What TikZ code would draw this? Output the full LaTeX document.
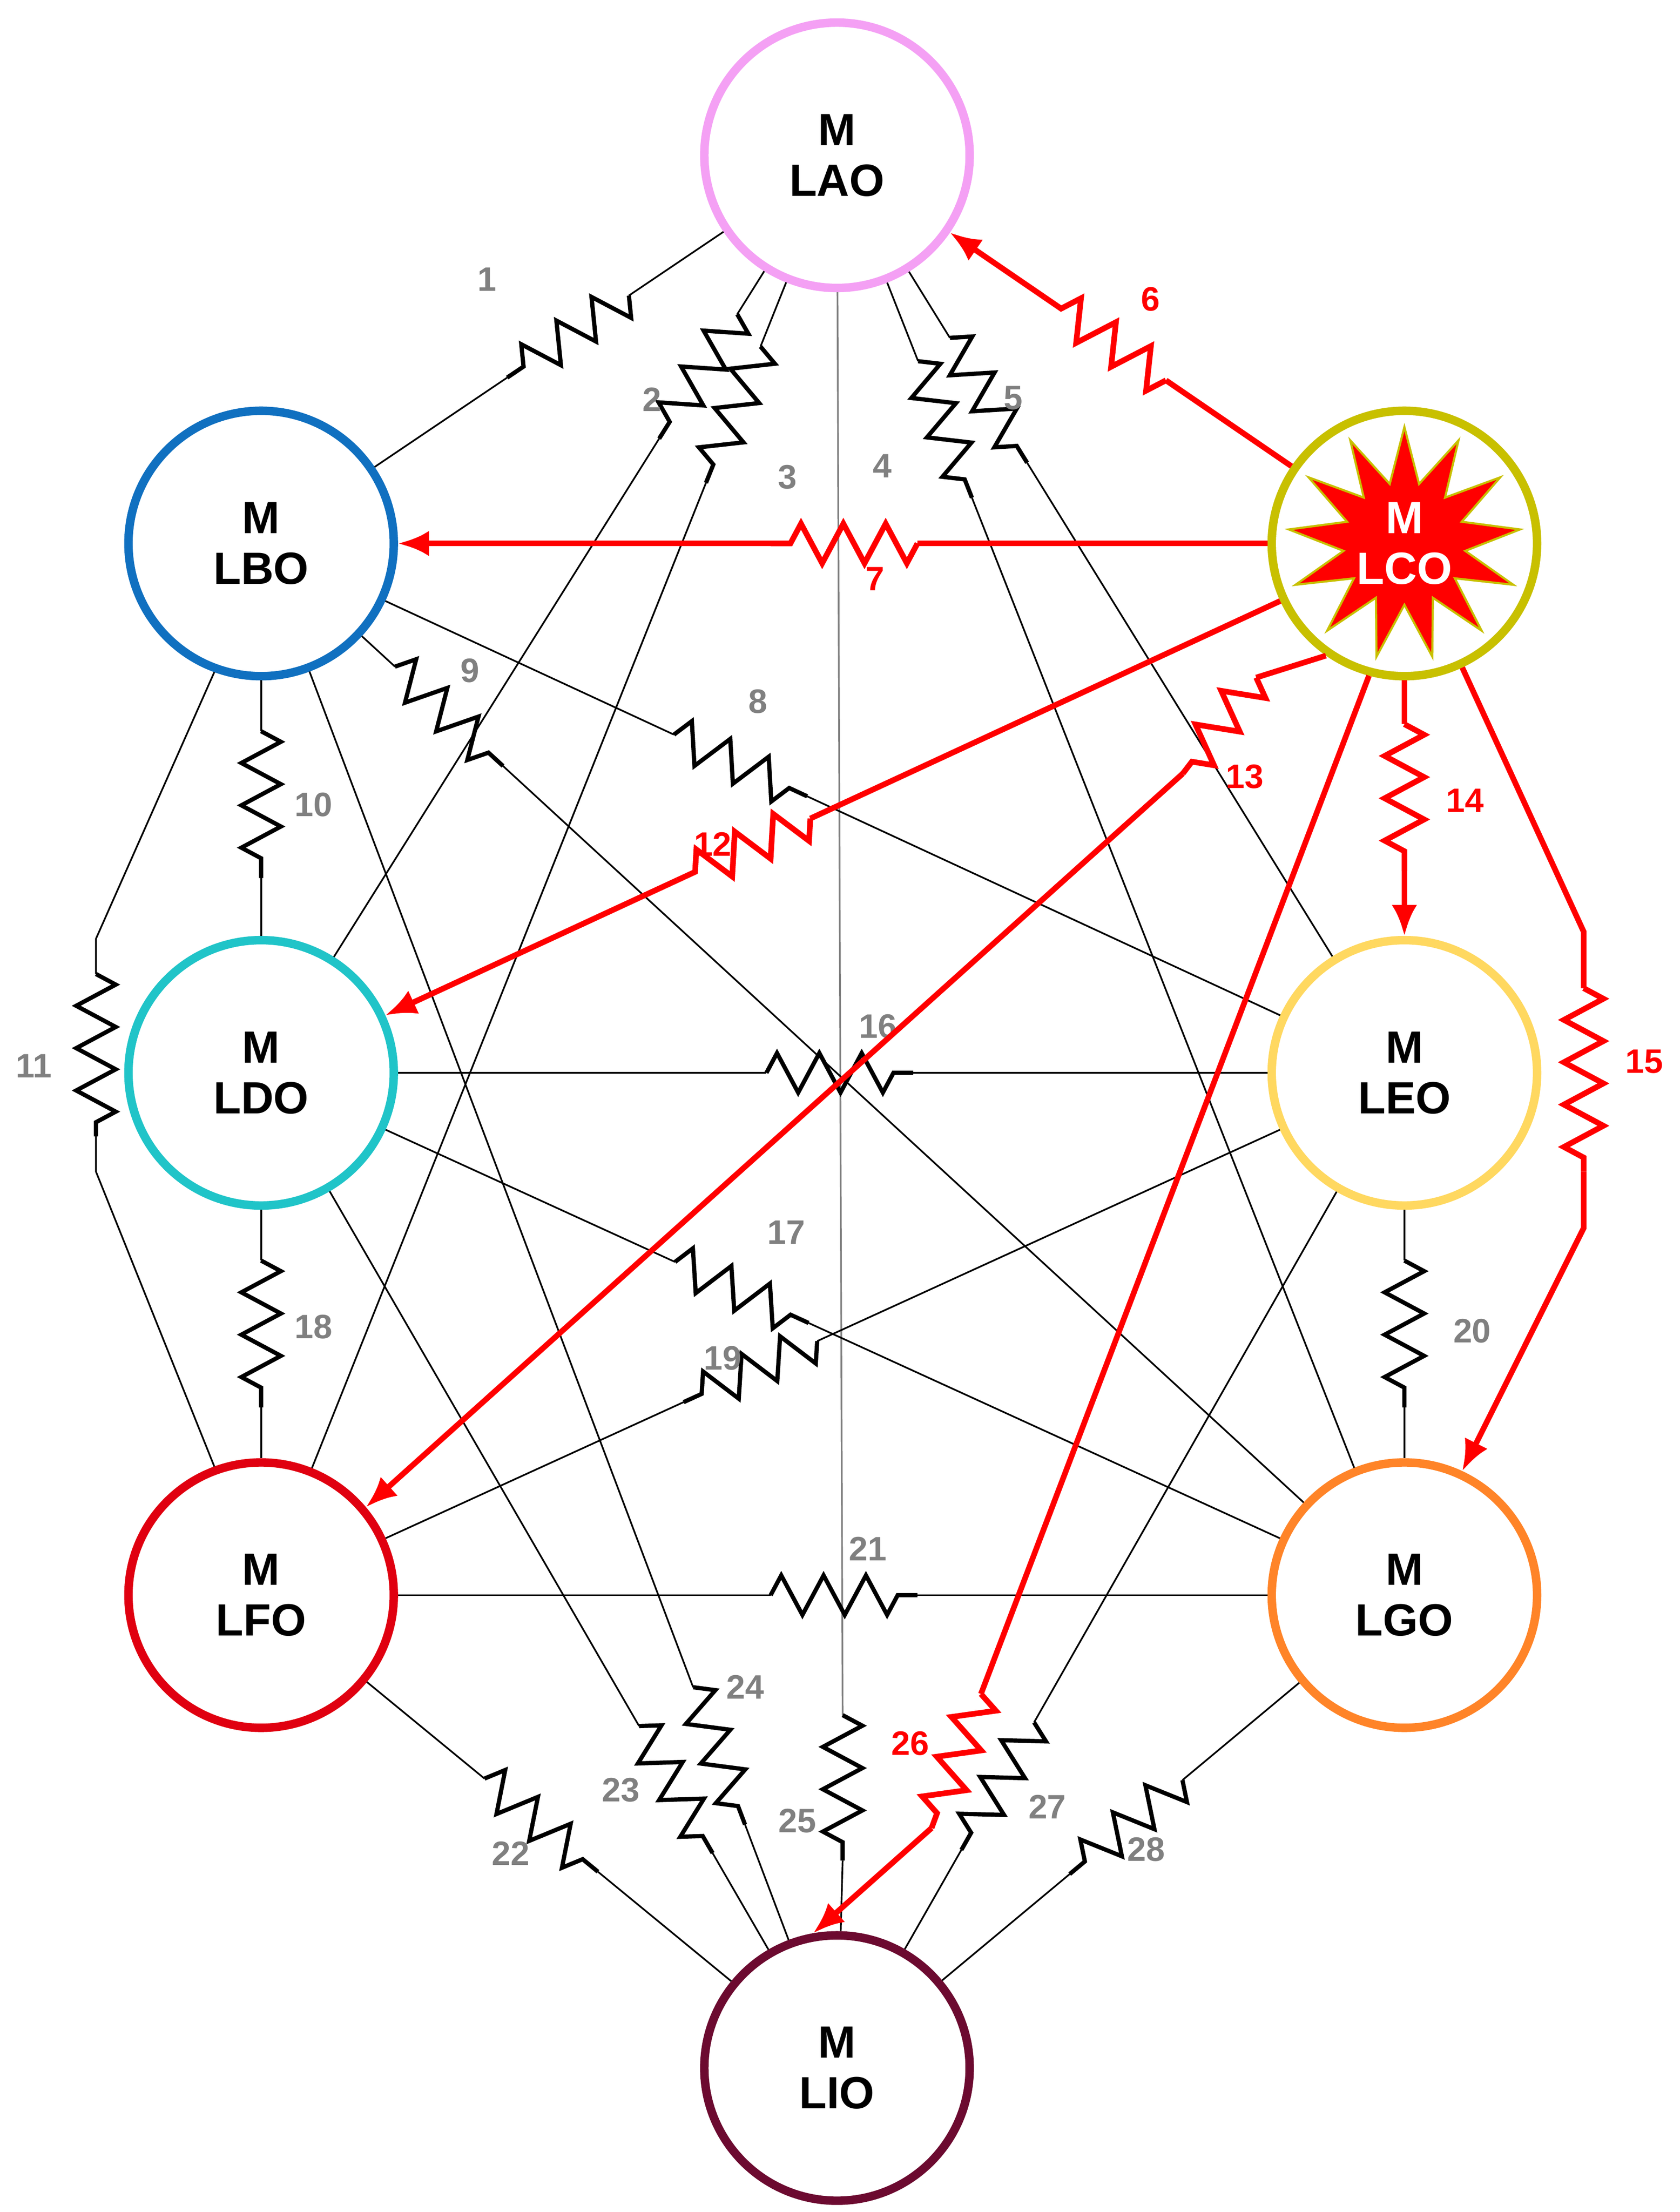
\documentclass[tikz,border=0pt]{standalone}
\usepackage{fontspec}
\setmainfont{Liberation Sans}
\usetikzlibrary{calc,decorations.pathmorphing,arrows.meta,shapes.geometric}
\definecolor{cA}{HTML}{F4A0F4}
\definecolor{cB}{HTML}{1070C0}
\definecolor{cC}{HTML}{C8C000}
\definecolor{cD}{HTML}{20C4C8}
\definecolor{cE}{HTML}{FFD860}
\definecolor{cF}{HTML}{E00010}
\definecolor{cG}{HTML}{FF8428}
\definecolor{cI}{HTML}{6C0A30}
\definecolor{lg}{HTML}{808080}
\definecolor{rr}{HTML}{FF0000}
\tikzset{
 mo/.style={circle,draw=#1,line width=6pt,minimum size=188pt,inner sep=0pt,align=center,font=\fontsize{32}{36}\selectfont\bfseries,fill=white},
 thn/.style={black,line width=1.2pt},
 thnr/.style={black,line width=3pt},
 rl/.style={draw=rr,line width=4pt},
 zz/.style={decorate,decoration={zigzag,segment length=30pt,amplitude=14pt}},
 arr/.style={-{Latex[length=22pt,width=18pt]}},
 lb/.style={font=\fontsize{24}{26}\selectfont\bfseries,text=lg},
 lr/.style={font=\fontsize{24}{26}\selectfont\bfseries,text=rr},
}
\newcommand\myres[9]{%
 \coordinate (rc) at ($(#1)!(#3)!(#2)$);
 \coordinate (rs) at ($(rc)!52pt!(#1)$);
 \coordinate (re) at ($(rc)!52pt!(#2)$);
 \draw[#4] (#1) -- (rs);
 \draw[#5,zz] (rs) -- (re);
 \draw[#4,#6] (re) -- (#2);
 \node[#7] at (#9) {#8};}
\begin{document}
\begin{tikzpicture}[x=1pt,y=-1pt]
\useasboundingbox (0,0) rectangle (1190,1567);
% nodes
\node[mo=cA] (A) at (593,110) {M\\LAO};
\node[mo=cB] (B) at (185,385) {M\\LBO};
\node[mo=cD] (D) at (185,760) {M\\LDO};
\node[mo=cE] (E) at (995,760) {M\\LEO};
\node[mo=cF] (F) at (185,1130) {M\\LFO};
\node[mo=cG] (G) at (995,1130) {M\\LGO};
\node[mo=cI] (I) at (593,1465) {M\\LIO};
\node[mo=cC] (C) at (995,385) {};
\node[star,star points=13,star point ratio=1.9,minimum size=165pt,fill=rr,draw=cC,line width=1.5pt] (sC) at (C) {};
\node[align=center,font=\fontsize{32}{36}\selectfont\bfseries,text=white] (tC) at (C) {M\\LCO};
% vertical line A-I with resistor 25
\draw[thn,gray] (A) -- (597,1215);
\draw[thnr,zz] (597,1215) -- (597,1318);
\draw[thn] (597,1318) -- (I);
\node[lb] at (565,1290) {25};
% black edges
\myres{A}{B}{390,220}{thn}{thnr}{}{lb}{1}{345,198}
\myres{A}{D}{500,270}{thn}{thnr}{}{lb}{2}{462,283}
\myres{A}{F}{535,300}{thn}{thnr}{}{lb}{3}{558,338}
\myres{A}{G}{655,310}{thn}{thnr}{}{lb}{4}{625,330}
\myres{A}{E}{690,290}{thn}{thnr}{}{lb}{5}{718,282}
\myres{B}{E}{535,520}{thn}{thnr}{}{lb}{8}{537,497}
\myres{B}{G}{325,500}{thn}{thnr}{}{lb}{9}{333,475}
\myres{B}{D}{185,570}{thn}{thnr}{}{lb}{10}{222,570}
\myres{D}{E}{595,760}{thn}{thnr}{}{lb}{16}{622,727}
\myres{D}{G}{535,895}{thn}{thnr}{}{lb}{17}{557,873}
\myres{D}{F}{185,945}{thn}{thnr}{}{lb}{18}{222,940}
\myres{E}{F}{540,990}{thn}{thnr}{}{lb}{19}{512,962}
\myres{E}{G}{995,945}{thn}{thnr}{}{lb}{20}{1043,943}
\myres{F}{G}{598,1130}{thn}{thnr}{}{lb}{21}{615,1097}
\myres{F}{I}{390,1285}{thn}{thnr}{}{lb}{22}{362,1313}
\myres{D}{I}{475,1270}{thn}{thnr}{}{lb}{23}{440,1268}
\myres{B}{I}{520,1240}{thn}{thnr}{}{lb}{24}{528,1195}
\myres{E}{I}{715,1270}{thn}{thnr}{}{lb}{27}{742,1280}
\myres{G}{I}{790,1285}{thn}{thnr}{}{lb}{28}{812,1310}
% 11 bent
\coordinate (k1) at (68,665); \coordinate (k2) at (68,690);
\coordinate (k3) at (68,805); \coordinate (k4) at (68,830);
\draw[thn] (B.250) -- (k1) -- (k2);
\draw[thnr,zz] (k2) -- (k3);
\draw[thn] (k3) -- (k4) -- (F.110);
\node[lb] at (24,755) {11};
% red edges
\myres{C}{A}{790,230}{rl}{rl}{arr}{lr}{6}{815,212}
\myres{C}{B}{598,380}{rl}{rl}{arr}{lr}{7}{620,410}
\myres{C}{D}{540,630}{rl}{rl}{arr}{lr}{12}{505,598}
\myres{C}{E}{995,565}{rl}{rl}{arr}{lr}{14}{1038,567}
% 13
\coordinate (m1) at (912,470); \coordinate (m2) at (838,548);
\coordinate (m0) at (890,480);
\draw[rl] (C.235) -- (m0);
\draw[rl,zz] (m0) -- (m2);
\draw[rl,arr] (m2) -- (F.40);
\node[lr] at (882,550) {13};
% 15 bent
\coordinate (q1) at (1122,660); \coordinate (q2) at (1122,700);
\coordinate (q3) at (1122,830); \coordinate (q4) at (1122,870);
\draw[rl] (C.295) -- (q1) -- (q2);
\draw[rl,zz] (q2) -- (q3);
\draw[rl,arr] (q3) -- (q4) -- (G.65);
\node[lr] at (1165,752) {15};
% 26
\coordinate (p1) at (695,1200); \coordinate (p2) at (660,1295);
\draw[rl] (C.255) -- (p1);
\draw[rl,zz] (p1) -- (p2);
\draw[rl,arr] (p2) -- (I.100);
\node[lr] at (645,1235) {26};
\end{tikzpicture}
\end{document}
